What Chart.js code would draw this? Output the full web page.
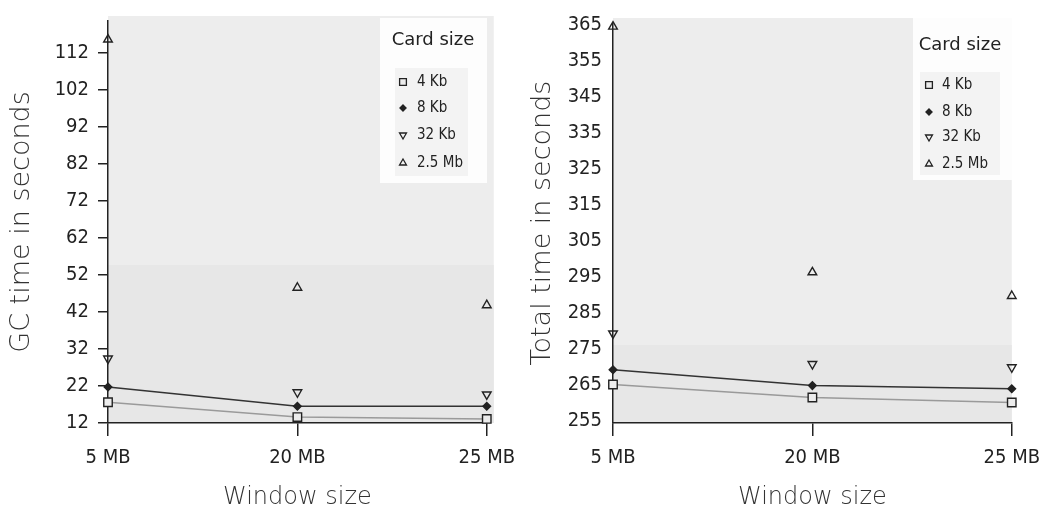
<!DOCTYPE html>
<html>
<head>
<meta charset="utf-8">
<script src="https://cdn.jsdelivr.net/npm/chart.js@4"></script>
<style>
  body { margin: 0; background: #fff; width: 1050px; height: 513px; overflow: hidden; position: relative; }
  .box { position: absolute; top: 0; width: 525px; height: 513px; }
</style>
</head>
<body>
<div class="box" style="left:0"><canvas id="gcChart" width="525" height="513"></canvas></div>
<div class="box" style="left:525px"><canvas id="totalChart" width="525" height="513"></canvas></div>
<script>
// data
const windowSizes = ['5 MB', '20 MB', '25 MB'];
const cardSizes = ['4 Kb', '8 Kb', '32 Kb', '2.5 Mb'];

const gc4Kb = [17.6, 13.6, 13.1];
const gc8Kb = [21.7, 16.5, 16.5];
const gc32Kb = [29.4, 20.3, 19.7];
const gc25Mb = [115.5, 48.5, 43.8];

const total4Kb = [265.0, 261.4, 260.0];
const total8Kb = [269.1, 264.7, 263.8];
const total32Kb = [279.2, 270.7, 269.8];
const total25Mb = [364.5, 296.2, 289.6];

const gcTicks = [12, 22, 32, 42, 52, 62, 72, 82, 92, 102, 112];
const totalTicks = [255, 265, 275, 285, 295, 305, 315, 325, 335, 345, 355, 365];

const ink = '#222';
const tickFont = { family: '"DejaVu Sans Condensed", "DejaVu Sans"', size: 20 };
const xTitleFont = { family: '"DejaVu Sans"', size: 24, weight: 200 };
const yTitleFont = { family: '"DejaVu Sans"', size: 27, weight: 200 };

// marker styles per card size
const markers = [
    { pointStyle: 'rect', radius: 6, rotation: 0, fill: '#ececec', line: '#9a9a9a', showLine: true },
    { pointStyle: 'rectRot', radius: 3.8, rotation: 0, fill: ink, line: '#333', showLine: true },
    { pointStyle: 'triangle', radius: 5, rotation: 180, fill: 'rgba(0,0,0,0)', line: ink, showLine: false },
    { pointStyle: 'triangle', radius: 5, rotation: 0, fill: 'rgba(0,0,0,0)', line: ink, showLine: false }
];

function makeDatasets(series) {
    return series.map((values, i) => ({
        label: cardSizes[i],
        data: values,
        showLine: markers[i].showLine,
        borderColor: markers[i].line,
        borderWidth: 1.5,
        pointStyle: markers[i].pointStyle,
        pointRadius: markers[i].radius,
        pointRotation: markers[i].rotation,
        pointBackgroundColor: markers[i].fill,
        pointBorderColor: ink,
        pointBorderWidth: 1.4,
        clip: false
    }));
}

function drawMarker(ctx, m, x, y) {
    ctx.save();
    ctx.translate(x, y);
    ctx.rotate(m.rotation * Math.PI / 180);
    ctx.beginPath();
    const r = m.radius;
    if (m.pointStyle === 'rect') {
        const s = Math.SQRT1_2 * r;
        ctx.rect(-s, -s, 2 * s, 2 * s);
    } else if (m.pointStyle === 'rectRot') {
        ctx.moveTo(0, -r); ctx.lineTo(r, 0); ctx.lineTo(0, r); ctx.lineTo(-r, 0); ctx.closePath();
    } else {
        for (let k = 0; k < 3; k++) {
            const a = k * 2 * Math.PI / 3;
            ctx[k ? 'lineTo' : 'moveTo'](Math.sin(a) * r, -Math.cos(a) * r);
        }
        ctx.closePath();
    }
    ctx.fillStyle = m.fill;
    ctx.fill();
    ctx.lineWidth = 1.3;
    ctx.strokeStyle = ink;
    ctx.stroke();
    ctx.restore();
}

const plotBackground = {
    id: 'plotBackground',
    beforeDraw(chart, args, opts) {
        const { ctx, chartArea: a } = chart;
        ctx.save();
        ctx.fillStyle = '#ededed';
        ctx.fillRect(a.left, a.top - 5, a.right - a.left + opts.extra, a.bottom - a.top + 5);
        ctx.fillStyle = '#e7e7e7';
        ctx.fillRect(a.left, opts.lowerTop, a.right - a.left + opts.extra, a.bottom - opts.lowerTop);
        ctx.restore();
    }
};

const cardLegend = {
    id: 'cardLegend',
    afterDraw(chart, args, o) {
        const ctx = chart.ctx;
        ctx.save();
        ctx.fillStyle = '#fdfdfd';
        ctx.fillRect(o.box[0], o.box[1], o.box[2], o.box[3]);
        ctx.fillStyle = '#f3f3f3';
        ctx.fillRect(o.inner[0], o.inner[1], o.inner[2], o.inner[3]);
        ctx.fillStyle = ink;
        ctx.textBaseline = 'middle';
        ctx.textAlign = 'center';
        ctx.font = '18px "DejaVu Sans"';
        ctx.fillText('Card size', o.titleX, o.titleY);
        ctx.textAlign = 'left';
        ctx.font = '15px "DejaVu Sans Condensed", "DejaVu Sans"';
        chart.data.datasets.forEach((ds, i) => {
            const y = o.rows[i];
            drawMarker(ctx, { ...markers[i], radius: markers[i].radius * 0.8 }, o.markerX, y);
            ctx.fillStyle = ink;
            ctx.fillText(ds.label, o.textX, y);
        });
        ctx.restore();
    }
};

function makeChart(el, series, ticks, yMin, yMax, yTitle, cfg) {
    return new Chart(el, {
        type: 'line',
        data: { labels: windowSizes, datasets: makeDatasets(series) },
        options: {
            responsive: false,
            animation: false,
            devicePixelRatio: 1,
            layout: { padding: { top: cfg.top, right: cfg.right, left: 0, bottom: 0 } },
            plugins: {
                legend: { display: false },
                tooltip: { enabled: false },
                plotBackground: { extra: cfg.extra, lowerTop: cfg.lowerTop },
                cardLegend: cfg.legend
            },
            scales: {
                x: {
                    offset: false,
                    afterFit(scale) { scale.height = 90; },
                    border: { color: ink, width: 1.5 },
                    grid: { drawOnChartArea: false, drawTicks: true, tickLength: 13, color: ink, lineWidth: 1.5 },
                    ticks: { color: ink, font: tickFont, padding: 10, maxRotation: 0 },
                    title: { display: true, text: 'Window size', color: '#333', font: xTitleFont, padding: { top: 0, bottom: 1 } }
                },
                y: {
                    min: yMin,
                    max: yMax,
                    afterFit(scale) { scale.width = cfg.yWidth; },
                    afterBuildTicks(scale) { scale.ticks = ticks.map(v => ({ value: v })); },
                    border: { color: ink, width: 1.5 },
                    grid: { drawOnChartArea: false, drawTicks: cfg.yTickMarks, tickLength: 10, color: ink, lineWidth: 1.5 },
                    ticks: { color: ink, font: tickFont, padding: cfg.yPad },
                    title: { display: true, text: yTitle, color: '#333', font: yTitleFont, padding: { top: cfg.titlePad, bottom: 0 } }
                }
            }
        },
        plugins: [plotBackground, cardLegend]
    });
}

makeChart(document.getElementById('gcChart'),
    [gc4Kb, gc8Kb, gc32Kb, gc25Mb], gcTicks, 12, 120.5, 'GC time in seconds',
    {
        top: 15, right: 32, yWidth: 108, yTickMarks: true, yPad: 9, titlePad: 6, extra: 7, lowerTop: 265,
        legend: {
            box: [380, 18, 107, 165], inner: [395, 68, 73, 108],
            titleX: 433, titleY: 40, rows: [82, 108, 135, 163], markerX: 403, textX: 417
        }
    });

makeChart(document.getElementById('totalChart'),
    [total4Kb, total8Kb, total32Kb, total25Mb], totalTicks, 254.3, 365.5, 'Total time in seconds',
    {
        top: 18, right: 33, yWidth: 88, yTickMarks: false, yPad: 11, titlePad: 2, extra: 0, lowerTop: 345,
        legend: {
            box: [388, 18, 99, 162], inner: [395, 72, 80, 103],
            titleX: 435, titleY: 45, rows: [85, 112, 137, 164], markerX: 404, textX: 417
        }
    });
</script>
</body>
</html>
